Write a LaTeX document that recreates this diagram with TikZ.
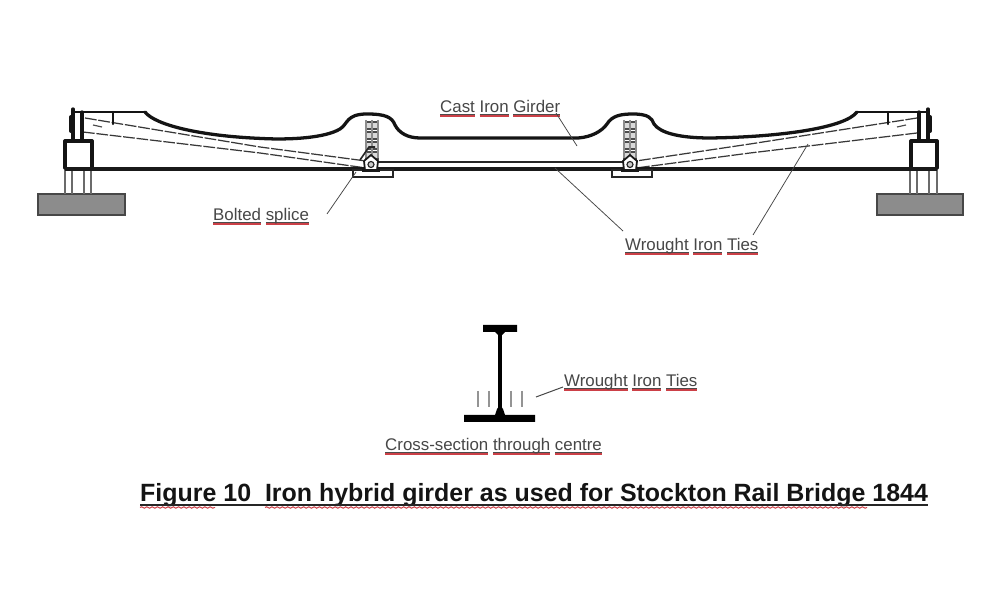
\documentclass[tikz,border=0pt]{standalone}
\usepackage{fontspec}
\setmainfont{Liberation Sans}
\usetikzlibrary{decorations.pathmorphing,calc}
\definecolor{spell}{rgb}{0.80,0.25,0.28}
\tikzset{
 x=0.03cm,y=-0.03cm,
 heavy/.style={line width=2.8pt,black!92,line cap=round,line join=round},
 chord/.style={line width=2.6pt,black!90},
 thin line/.style={line width=0.9pt,black!85},
 leg/.style={line width=1.1pt,black!58},
 tie/.style={line width=1.05pt,black!78,dash pattern=on 10pt off 1.5pt},
 leader/.style={line width=0.65pt,black!72},
 lab/.style={inner sep=0pt,anchor=base west,text=black!72,font=\fontsize{14.4pt}{16pt}\selectfont},
 ttl/.style={inner sep=0pt,anchor=base west,text=black!92,font=\fontsize{21.3pt}{24pt}\selectfont\bfseries},
 wavy/.style={spell,line width=0.85pt,decorate,decoration={snake,amplitude=0.6pt,segment length=4.5pt}},
 block/.style={draw=black!72,fill=black!45,line width=1pt},
}
\newcommand{\ulw}[1]{\setbox0\hbox{#1}\rlap{\color{spell}\rule[-3.5pt]{\wd0}{1.2pt}}\rlap{\color{black!70}\rule[-2pt]{\wd0}{0.5pt}}\box0\relax}
\newcommand{\bolts}[1]{%
 \begin{scope}[shift={(#1,0)}]
  \foreach \yy in {122,132,142,152}{
   \fill[black!15] (-7,\yy) rectangle (7,\yy+7);
   \draw[line width=1pt,black!70] (-7,\yy)--(7,\yy) (-7,\yy+7)--(7,\yy+7);}
  \draw[line width=0.9pt,black!45] (-6,120)--(-6,158) (6,120)--(6,158) (0,120)--(0,158);
 \end{scope}}
\newcommand{\pinjoint}[1]{%
 \begin{scope}[shift={(#1,0)}]
  \draw[thin line,fill=white] (-18,170) rectangle (22,177);
  \fill[black!90] (-9,168) rectangle (9,172);
  \draw[line width=1.5pt,black!90,fill=white] (-6,170) -- (-7,161) -- (0,155) -- (7,161) -- (6,170) -- cycle;
  \draw[line width=1pt,black!85,fill=black!20] (0,164.5) circle (3);
 \end{scope}}
\begin{document}
\begin{tikzpicture}
\useasboundingbox[fill=white] (0,0) rectangle (1000,600);
% abutments
\node[block,minimum width=87*0.03cm,minimum height=21*0.03cm,inner sep=0pt] (blockL) at (81.5,204.5) {};
\node[block,minimum width=86*0.03cm,minimum height=21*0.03cm,inner sep=0pt] (blockR) at (920,204.5) {};
\foreach \lx in {65,72,84,91,910,917,929,937}{\draw[leg] (\lx,168)--(\lx,194);}
% ties
\draw[tie] (85,118) -- (260,147) -- (366,161);
\draw[tie] (83,132) -- (260,153) -- (366,168);
\draw[tie] (917,118) -- (750,144) -- (636,161);
\draw[tie] (917,133) -- (750,153) -- (636,168);
\draw[line width=1pt,black!70] (93,125)--(102,127);
\draw[line width=1pt,black!70] (897,127)--(906,125);
% bolted joints
\bolts{372}\bolts{630}
\draw[line width=1.4pt,black!85] (360,160)--(369,147)--(375,147);
% girder outline
\draw[heavy] (145,112) .. controls (155,125) and (200,136) .. (262,138.5)
 .. controls (290,140) and (325,138) .. (340,129) .. controls (348,124) and (346,114) .. (367,114)
 .. controls (385,114) and (392,117) .. (395,125) .. controls (399,133) and (408,138) .. (420,138)
 -- (578,138) .. controls (592,137) and (602,131) .. (607,124) .. controls (612,116) and (620,114) .. (633,114)
 .. controls (648,114) and (652,118) .. (654,124) .. controls (660,133) and (680,138) .. (710,138)
 .. controls (780,137) and (845,128) .. (857,112);
\draw[heavy,line width=2.1pt] (73,112)--(145,112) (857,112)--(928,112);
\draw[heavy,line width=2pt] (113,112)--(113,124) (888,112)--(888,124);
% posts and boxes
\draw[heavy] (73,109)--(73,140) (82,112)--(82,140) (928,109)--(928,140) (919,112)--(919,140);
\draw[heavy,line width=3.4pt] (71,117)--(71,131) (930,117)--(930,131);
\draw[heavy] (65,168)--(65,141) (92,141)--(92,168) (911,168)--(911,141) (937,141)--(937,168);
\draw[heavy] (65,141)--(92,141) (911,141)--(937,141);
% chord and tie
\draw[chord] (65,169)--(937,169);
\draw[line width=1.3pt,black!85] (375,162)--(626,162);
\pinjoint{371}\pinjoint{630}
% section
\fill[black] (483,325) rectangle (517,332) (464,415) rectangle (535,422);
\draw[line width=2.8pt,black] (500,332)--(500,415);
\fill[black] (495,415) -- (497,409) -- (500,405) -- (503,409) -- (505,415) -- cycle;
\fill[black] (495,332) -- (500,337) -- (505,332) -- cycle;
\foreach \lx in {478,489,511,522}{\draw[line width=1.1pt,black!42] (\lx,391)--(\lx,407);}
% labels
\node[lab] (cast) at (440,112.5) {\ulw{Cast} \ulw{Iron} \ulw{Girder}};
\node[lab] (bolted) at (213,220.6) {\ulw{Bolted} \ulw{splice}};
\node[lab] (ties) at (625,250.5) {\ulw{Wrought} \ulw{Iron} \ulw{Ties}};
\node[lab] (ties2) at (564,386.5) {\ulw{Wrought} \ulw{Iron} \ulw{Ties}};
\node[lab] (cross) at (385,450.5) {\ulw{Cross-section} \ulw{through} \ulw{centre}};
\node[ttl] (title) at (140,501.5) {Figure 10\ \ Iron hybrid girder as used for Stockton Rail Bridge 1844};
% title underlines
\draw[line width=0.95pt,black!85] ($(title.base west)+(0,3.5)$) -- ($(title.base east)+(0,3.5)$);
\draw[wavy] ($(title.base west)+(0,6)$) -- ++(75,0);
\draw[wavy] ($(title.base west)+(125,6)$) -- ++(602,0);
% leaders
\coordinate (c1) at (556,113); \coordinate (c2) at (577,146);
\coordinate (w1) at (555,168); \coordinate (w2) at (623,231);
\coordinate (w3) at (808,144); \coordinate (w4) at (753,235);
\coordinate (b1) at (356,172); \coordinate (b2) at (327,214);
\coordinate (s1) at (536,397); \coordinate (s2) at (563,387);
\draw[leader] (c1)--(c2) (w1)--(w2) (w3)--(w4) (b1)--(b2);
\draw[leader,line width=0.85pt] (s1)--(s2);
\end{tikzpicture}
\end{document}
